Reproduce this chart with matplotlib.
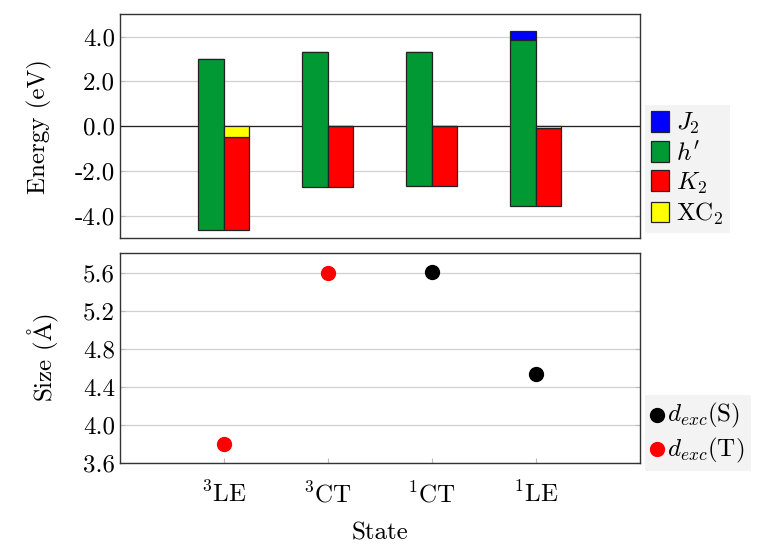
import matplotlib
matplotlib.use('Agg')
import matplotlib.pyplot as plt
from matplotlib.ticker import FormatStrFormatter

plt.rcParams['font.family'] = 'serif'
plt.rcParams['font.serif'] = ['cmr10']
plt.rcParams['mathtext.fontset'] = 'cm'
plt.rcParams['axes.formatter.use_mathtext'] = True
plt.rcParams['font.size'] = 18

# data
states = ['$^3$LE', '$^3$CT', '$^1$CT', '$^1$LE']
h_top = [3.02, 3.32, 3.32, 3.84]      # h' bar upper end
h_bot = [-4.65, -2.71, -2.68, -3.57]  # h' bar lower end
j2 = [0.0, 0.0, 0.0, 0.43]            # stacked on top of h'
xc2 = [-0.48, 0.0, 0.0, -0.10]        # from zero down
k2 = [-4.17, -2.71, -2.68, -3.47]     # below XC2

size_S = [None, None, 5.61, 4.54]
size_T = [3.80, 5.60, None, None]

c_blue = '#0000ff'
c_green = '#009933'
c_red = '#ff0000'
c_yellow = '#ffff00'

fig = plt.figure(figsize=(7.58, 5.45), dpi=100)
ax1 = fig.add_axes([0.158, 0.563, 0.686, 0.411])
ax2 = fig.add_axes([0.158, 0.150, 0.686, 0.385])

x = [1, 2, 3, 4]
w = 0.245
xl = [i - w / 2 for i in x]
xr = [i + w / 2 for i in x]
ek = dict(edgecolor='#222222', linewidth=0.9, zorder=3)

ax1.axhline(0, color='#222222', lw=0.9, zorder=2)
hh = [t - b for t, b in zip(h_top, h_bot)]
ax1.bar(xl, j2, w, bottom=h_top, color=c_blue, label="$J_2$", **ek)
ax1.bar(xl, hh, w, bottom=h_bot, color=c_green, label="$h'$", **ek)
ax1.bar(xr, k2, w, bottom=xc2, color=c_red, label="$K_2$", **ek)
ax1.bar(xr, xc2, w, bottom=0, color=c_yellow, label="$\\mathrm{XC}_2$", **ek)

ax1.set_xlim(0, 5)
ax1.set_ylim(-5, 5)
ax1.set_yticks([-4, -2, 0, 2, 4])
ax1.yaxis.set_major_formatter(FormatStrFormatter('%.1f'))
ax1.set_xticks([])
ax1.set_ylabel('Energy (eV)', labelpad=16)
ax1.grid(axis='y', color='#d0d0d0', lw=0.9, zorder=0)
ax1.tick_params(axis='y', direction='in', color='#bbbbbb', left=True, right=True)
ax1.legend(loc='lower left', bbox_to_anchor=(1.0, 0.0), frameon=True,
           facecolor='#f0f0f0', edgecolor='none', fancybox=False,
           handlelength=0.7, handleheight=0.9, handletextpad=0.3,
           labelspacing=0.2, borderaxespad=0.2, borderpad=0.25)

xs = [xi for xi, v in zip(x, size_S) if v is not None]
ys = [v for v in size_S if v is not None]
xt = [xi for xi, v in zip(x, size_T) if v is not None]
yt = [v for v in size_T if v is not None]
ax2.scatter(xs, ys, s=100, color='black', zorder=3, label='$d_{exc}(\\mathrm{S})$')
ax2.scatter(xt, yt, s=100, color=c_red, zorder=3, label='$d_{exc}(\\mathrm{T})$')

ax2.set_xlim(0, 5)
ax2.set_ylim(3.6, 5.8)
ax2.set_yticks([3.6, 4.0, 4.4, 4.8, 5.2, 5.6])
ax2.yaxis.set_major_formatter(FormatStrFormatter('%.1f'))
ax2.set_xticks(x)
ax2.set_xticklabels(states)
ax2.set_xlabel('State', labelpad=11)
ax2.set_ylabel('Size ($\\mathrm{\\AA}$)', labelpad=16)
ax2.grid(axis='y', color='#d0d0d0', lw=0.9, zorder=0)
ax2.tick_params(direction='in', color='#bbbbbb', left=True, right=True, top=False)
ax2.tick_params(axis='x', pad=13)
ax2.legend(loc='lower left', bbox_to_anchor=(1.0, -0.06), frameon=True,
           facecolor='#f0f0f0', edgecolor='none', fancybox=False,
           handlelength=0.5, handletextpad=0.15, labelspacing=0.2,
           borderaxespad=0.2, borderpad=0.25)

for ax in (ax1, ax2):
    for sp in ax.spines.values():
        sp.set_color('#333333')
        sp.set_linewidth(1.0)

fig.savefig('out.png', dpi=100)
